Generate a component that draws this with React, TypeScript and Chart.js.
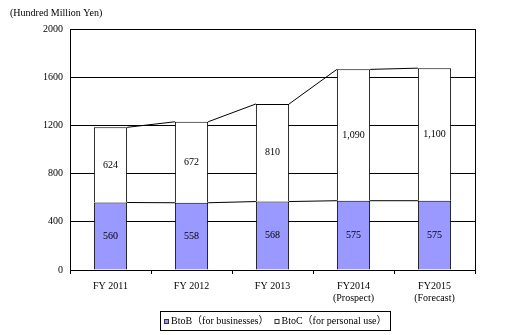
import React, { useEffect, useRef } from "react";
import { Chart, registerables } from "chart.js";

Chart.register(...registerables);

const categories: (string | string[])[] = [
  "FY 2011",
  "FY 2012",
  "FY 2013",
  ["FY2014", "(Prospect)"],
  ["FY2015", "(Forecast)"],
];
const btobValues = [560, 558, 568, 575, 575];
const btocValues = [624, 672, 810, 1090, 1100];
const btobLabel = "BtoB（for businesses）";
const btocLabel = "BtoC（for personal use）";
const unitLabel = "(Hundred Million Yen)";
const yTicks = [0, 400, 800, 1200, 1600, 2000];

const SERIF = "'Liberation Serif', 'Times New Roman', 'Noto Sans CJK JP', serif";

const chartPlugin = {
  id: "custom",
  afterDatasetsDraw(chart: any) {
    const ctx = chart.ctx;
    const area = chart.chartArea;
    ctx.save();
    // series lines
    ctx.strokeStyle = "#000";
    ctx.lineWidth = 1;
    chart.data.datasets.forEach((_ds: any, di: number) => {
      const meta = chart.getDatasetMeta(di);
      for (let i = 0; i < meta.data.length - 1; i++) {
        const a = meta.data[i];
        const b = meta.data[i + 1];
        ctx.beginPath();
        ctx.moveTo(a.x + a.width / 2, a.y);
        ctx.lineTo(b.x - b.width / 2, b.y);
        ctx.stroke();
      }
    });
    // data labels
    ctx.fillStyle = "#000";
    ctx.font = `10px ${SERIF}`;
    ctx.textAlign = "center";
    ctx.textBaseline = "middle";
    chart.data.datasets.forEach((ds: any, di: number) => {
      const meta = chart.getDatasetMeta(di);
      meta.data.forEach((el: any, i: number) => {
        const v = ds.data[i];
        ctx.fillText(v.toLocaleString("en-US"), el.x, (el.y + el.base) / 2);
      });
    });
    // plot border
    ctx.strokeStyle = "#000";
    ctx.lineWidth = 1;
    ctx.strokeRect(
      Math.round(area.left) + 0.5,
      Math.round(area.top) + 0.5,
      Math.round(area.right - area.left),
      Math.round(area.bottom - area.top)
    );
    ctx.restore();
  },
  afterDraw(chart: any) {
    const ctx = chart.ctx;
    ctx.save();
    // unit title
    ctx.fillStyle = "#000";
    ctx.font = `10px ${SERIF}`;
    ctx.textAlign = "left";
    ctx.textBaseline = "middle";
    ctx.fillText(unitLabel, 10, 13);
    // legend
    const ds = chart.data.datasets;
    ctx.font = `10px ${SERIF}`;
    let total = 3;
    ds.forEach((d: any, i: number) => {
      total += 5 + 2 + ctx.measureText(d.label).width + (i < ds.length - 1 ? 6 : 5);
    });
    const center = 275.5;
    const boxL = Math.round(center - total / 2) + 0.5;
    const boxR = boxL + Math.round(total);
    const boxT = 311.5, boxB = 330.5;
    ctx.strokeStyle = "#000";
    ctx.lineWidth = 1;
    ctx.strokeRect(boxL, boxT, boxR - boxL, boxB - boxT);
    const cy = (boxT + boxB) / 2;
    let x = Math.round(boxL + 3);
    ds.forEach((d: any) => {
      ctx.fillStyle = d.backgroundColor;
      ctx.fillRect(x, Math.round(cy - 2.5), 5, 5);
      ctx.strokeStyle = "#333";
      ctx.strokeRect(x + 0.5, Math.round(cy - 2.5) + 0.5, 4, 4);
      x += 7;
      ctx.fillStyle = "#000";
      ctx.fillText(d.label, x, cy);
      x += ctx.measureText(d.label).width + 6;
    });
    ctx.restore();
  },
};

export default function App() {
  const ref = useRef<HTMLCanvasElement | null>(null);
  useEffect(() => {
    if (!ref.current) return;
    const chart = new Chart(ref.current, {
      type: "bar",
      data: {
        labels: categories,
        datasets: [
          {
            label: btobLabel,
            data: btobValues,
            backgroundColor: "#9999FF",
            borderColor: "#000",
            borderWidth: 1,
            barPercentage: 0.41,
            categoryPercentage: 1,
          },
          {
            label: btocLabel,
            data: btocValues,
            backgroundColor: "#FFFFFF",
            borderColor: "#000",
            borderWidth: 1,
            barPercentage: 0.41,
            categoryPercentage: 1,
          },
        ],
      },
      options: {
        animation: false,
        responsive: false,
        layout: { padding: { left: 0, right: 54, top: 29, bottom: 0 } },
        plugins: {
          legend: { display: false },
          tooltip: { enabled: false },
          title: { display: false },
        },
        scales: {
          x: {
            stacked: true,
            afterFit: (s: any) => {
              s.height = 65;
            },
            grid: {
              drawOnChartArea: false,
              drawTicks: true,
              tickLength: 4,
              color: "#000",
              offset: true,
            },
            border: { color: "#000" },
            ticks: {
              color: "#000",
              font: { family: SERIF, size: 10 },
              padding: 6,
              maxRotation: 0,
              autoSkip: false,
            },
          },
          y: {
            stacked: true,
            min: 0,
            max: 2000,
            afterFit: (s: any) => {
              s.width = 70;
            },
            afterBuildTicks: (s: any) => {
              s.ticks = yTicks.map((v) => ({ value: v }));
            },
            grid: { color: "#000", drawTicks: false },
            border: { color: "#000" },
            ticks: {
              color: "#000",
              font: { family: SERIF, size: 10 },
              padding: 7,
              callback: (v: any) => String(v),
            },
          },
        },
      } as any,
      plugins: [chartPlugin],
    });
    return () => chart.destroy();
  }, []);
  return (
    <div style={{ position: "fixed", left: 0, top: 0, width: 529, height: 335, background: "#fff" }}>
      <canvas ref={ref} width={529} height={335} style={{ width: 529, height: 335 }} />
    </div>
  );
}
